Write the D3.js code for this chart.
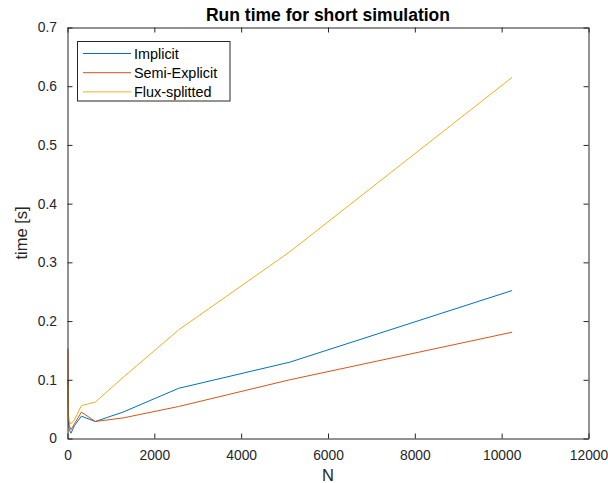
<!DOCTYPE html>
<html><head><meta charset="utf-8">
<script src="https://cdn.jsdelivr.net/npm/d3@7"></script>
<style>body{margin:0;background:#fff}svg{display:block}text{font-family:"Liberation Sans",Arial,Helvetica,sans-serif}</style>
</head><body><svg id="c" width="608" height="483"></svg>
<script>
const N = [10, 20, 40, 80, 160, 320, 640, 1280, 2560, 5120, 10240];
const implicitT = [0.100, 0.030, 0.015, 0.009, 0.022, 0.038, 0.029, 0.045, 0.0855, 0.130, 0.252];
const semiExplicitT = [0.153, 0.045, 0.022, 0.015, 0.025, 0.045, 0.029, 0.035, 0.0545, 0.100, 0.181];
const fluxSplitT = [0.090, 0.030, 0.030, 0.025, 0.032, 0.056, 0.062, 0.104, 0.185, 0.318, 0.615];
const seriesNames = ["Implicit", "Semi-Explicit", "Flux-splitted"];
const xTicks = [0, 2000, 4000, 6000, 8000, 10000, 12000];
const yTicks = [0, 0.1, 0.2, 0.3, 0.4, 0.5, 0.6, 0.7];
const colors = ["#0072BD", "#D95319", "#EDB120"];

const svg = d3.select("#c");
const L = 67.5, R = 588.5, T = 27.5, B = 438.5;
const x = d3.scaleLinear().domain([0, 12000]).range([L, R]);
const y = d3.scaleLinear().domain([0, 0.7]).range([B, T]);
const axC = "#262626";

const series = [implicitT, semiExplicitT, fluxSplitT];
const line = d3.line().x((d, i) => x(N[i])).y(d => y(d));
series.forEach((s, k) => {
  svg.append("path").datum(s).attr("d", line).attr("fill", "none")
    .attr("stroke", colors[k]).attr("stroke-width", 1);
});

// axes
const gx = svg.append("g").attr("transform", `translate(0,${B})`)
  .call(d3.axisBottom(x).tickValues(xTicks).tickSizeInner(-5).tickSizeOuter(0).tickPadding(12).tickFormat(d3.format("d")));
const gy = svg.append("g").attr("transform", `translate(${L},0)`)
  .call(d3.axisLeft(y).tickValues(yTicks).tickSizeInner(-5).tickSizeOuter(0).tickPadding(10.5).tickFormat(d => d === 0 ? "0" : d3.format(".1f")(d)));
const gt = svg.append("g").attr("transform", `translate(0,${T})`)
  .call(d3.axisTop(x).tickValues(xTicks).tickSizeInner(-5).tickSizeOuter(0).tickFormat(""));
const gr = svg.append("g").attr("transform", `translate(${R},0)`)
  .call(d3.axisRight(y).tickValues(yTicks).tickSizeInner(-5).tickSizeOuter(0).tickFormat(""));
[gx, gy, gt, gr].forEach(g => {
  g.selectAll("path.domain").attr("stroke", axC);
  g.selectAll("line").attr("stroke", axC);
  g.selectAll("text").attr("fill", axC).style("font-size", "13.8px").style("font-family", '"Liberation Sans",Arial,sans-serif');
});

// title and labels
svg.append("text").attr("x", (L + R) / 2).attr("y", 20.5).attr("text-anchor", "middle")
  .style("font-size", "17.5px").style("font-weight", "bold").attr("fill", "#000").text("Run time for short simulation");
svg.append("text").attr("x", (L + R) / 2).attr("y", 481).attr("text-anchor", "middle")
  .style("font-size", "16.5px").attr("fill", axC).text("N");
svg.append("text").attr("transform", `translate(26.5,${(T + B) / 2}) rotate(-90)`).attr("text-anchor", "middle")
  .style("font-size", "16.5px").attr("fill", axC).text("time [s]");

// legend
const lg = svg.append("g");
lg.append("rect").attr("x", 77.5).attr("y", 41.5).attr("width", 152.5).attr("height", 59.5)
  .attr("fill", "#fff").attr("stroke", axC).attr("stroke-width", 1);
seriesNames.forEach((n, k) => {
  const yy = 53.5 + k * 19.2;
  lg.append("line").attr("x1", 83).attr("x2", 131).attr("y1", yy).attr("y2", yy)
    .attr("stroke", colors[k]).attr("stroke-width", 1);
  lg.append("text").attr("x", 134).attr("y", yy + 5).style("font-size", "14.4px").attr("fill", "#000").text(n);
});
</script></body></html>
